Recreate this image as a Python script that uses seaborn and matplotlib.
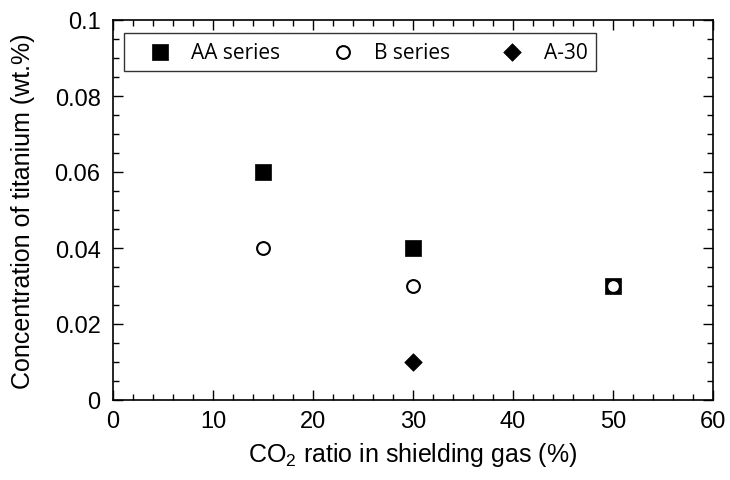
import pandas as pd
import seaborn as sns
import matplotlib.pyplot as plt
from matplotlib.ticker import MultipleLocator

# -----------------------
# Data
# -----------------------
aa_co2 = [15, 30, 50]
aa_ti = [0.06, 0.04, 0.03]

b_co2 = [15, 30, 50]
b_ti = [0.04, 0.03, 0.03]

a30_co2 = [30]
a30_ti = [0.01]

y_ticks = [0, 0.02, 0.04, 0.06, 0.08, 0.1]
y_ticklabels = ["0", "0.02", "0.04", "0.06", "0.08", "0.1"]

data = pd.concat([
    pd.DataFrame({"CO2": aa_co2, "Ti": aa_ti, "Series": "AA series"}),
    pd.DataFrame({"CO2": b_co2, "Ti": b_ti, "Series": "B series"}),
    pd.DataFrame({"CO2": a30_co2, "Ti": a30_ti, "Series": "A-30"}),
], ignore_index=True)

sns.set_style("ticks", {"text.color": "black", "axes.labelcolor": "black",
                        "xtick.color": "black", "ytick.color": "black",
                        "axes.edgecolor": "black"})
plt.rcParams["font.family"] = ["Liberation Sans", "DejaVu Sans"]
plt.rcParams["mathtext.fontset"] = "custom"
plt.rcParams["mathtext.rm"] = "Liberation Sans"
plt.rcParams["mathtext.it"] = "Liberation Sans"

fig = plt.figure(figsize=(7.3, 4.81), dpi=100)
ax = fig.add_axes([113 / 730, 1 - 401 / 481, 600 / 730, 380 / 481])

sns.scatterplot(data=data[data["Series"] == "AA series"], x="CO2", y="Ti",
                marker="s", s=125, color="black", edgecolor="black",
                linewidth=0.5, label="AA series", ax=ax, zorder=2)
sns.scatterplot(data=data[data["Series"] == "B series"], x="CO2", y="Ti",
                marker="o", s=85, facecolor="white", edgecolor="black",
                linewidth=1.5, label="B series", ax=ax, zorder=3)
sns.scatterplot(data=data[data["Series"] == "A-30"], x="CO2", y="Ti",
                marker="D", s=80, color="black", edgecolor="black",
                linewidth=0.5, label="A-30", ax=ax, zorder=2)

ax.set_xlim(0, 60)
ax.set_ylim(0, 0.1)
ax.xaxis.set_major_locator(MultipleLocator(10))
ax.xaxis.set_minor_locator(MultipleLocator(2))
ax.yaxis.set_minor_locator(MultipleLocator(0.005))
ax.set_yticks(y_ticks)
ax.set_yticklabels(y_ticklabels)

ax.tick_params(which="both", direction="in", top=True, right=True,
               labelsize=17, color="black", labelcolor="black", width=1)
ax.tick_params(which="major", length=7)
ax.tick_params(which="minor", length=4)
ax.tick_params(axis="x", pad=7)
ax.tick_params(axis="y", pad=9)
for sp in ax.spines.values():
    sp.set_linewidth(1.2)
    sp.set_color("black")

ax.set_xlabel("CO$_2$ ratio in shielding gas (%)", fontsize=18, labelpad=6,
              color="black")
ax.set_ylabel("Concentration of titanium (wt.%)", fontsize=18, labelpad=14,
              color="black")

leg = ax.legend(loc="upper left", bbox_to_anchor=(0.018, 0.966),
                ncol=3, frameon=True, fancybox=False, edgecolor="black",
                borderaxespad=0, borderpad=0.42, handlelength=2.6,
                handletextpad=0.2, columnspacing=1.7,
                prop={"family": ["Open Sans", "DejaVu Sans"], "size": 15})
leg.get_frame().set_linewidth(1.0)
for t in leg.get_texts():
    t.set_color("black")

plt.savefig("out.png", dpi=100)
plt.close()
